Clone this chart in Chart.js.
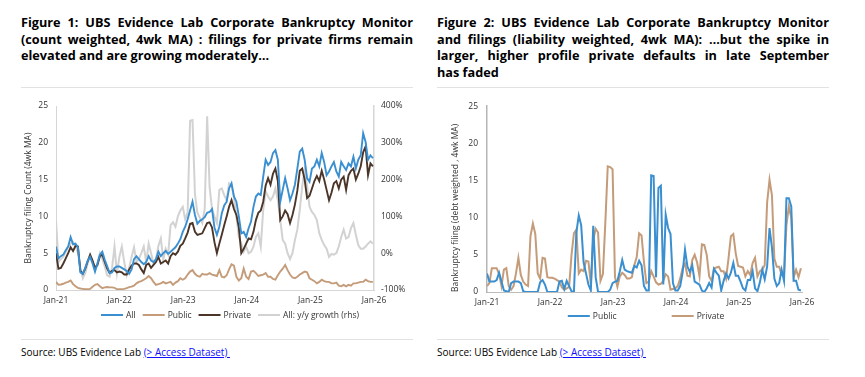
<!DOCTYPE html>
<html>
<head>
<meta charset="utf-8">
<script src="https://cdn.jsdelivr.net/npm/chart.js@4.4.1/dist/chart.umd.min.js"></script>
<style>
  body { margin: 0; width: 865px; height: 377px; background: #fff; position: relative; overflow: hidden; font-family: "Open Sans", sans-serif; color: #000; }
  .title { position: absolute; top: 14px; width: 392px; font-weight: bold; font-size: 12.7px; line-height: 16.7px; }
  .title div { white-space: nowrap; }
  .title .just { text-align: justify; text-align-last: justify; white-space: normal; }
  .rule { position: absolute; width: 392px; height: 1px; background: #e2e2e2; }
  .source { position: absolute; top: 345px; font-size: 10px; white-space: pre; }
  .source a { color: #1010ff; text-decoration: underline; }
  canvas { position: absolute; top: 92px; }
</style>
</head>
<body>
<div class="title" style="left:21px">
  <div class="just">Figure 1: UBS Evidence Lab Corporate Bankruptcy Monitor</div>
  <div class="just">(count weighted, 4wk MA) : filings for private firms remain</div>
  <div>elevated and are growing moderately…</div>
</div>
<div class="title" style="left:437px">
  <div class="just">Figure 2: UBS Evidence Lab Corporate Bankruptcy Monitor</div>
  <div class="just">and filings (liability weighted, 4wk MA): …but the spike in</div>
  <div class="just">larger, higher profile private defaults in late September</div>
  <div>has faded</div>
</div>
<div class="rule" style="left:21px; top:87px"></div>
<div class="rule" style="left:437px; top:87px"></div>
<canvas id="count-chart" width="400" height="240" style="left:14px"></canvas>
<canvas id="liab-chart" width="400" height="240" style="left:430px"></canvas>
<div class="rule" style="left:21px; top:339px"></div>
<div class="rule" style="left:437px; top:339px"></div>
<div class="source" style="left:21px">Source: UBS Evidence Lab <a href="#">(&gt; Access Dataset) </a></div>
<div class="source" style="left:437px">Source: UBS Evidence Lab <a href="#">(&gt; Access Dataset) </a></div>

<script>
// fortnightly readings, first one in the first week of Jan-21
const stepDays = 14;
const yearTicks = ["Jan-21", "Jan-22", "Jan-23", "Jan-24", "Jan-25", "Jan-26"];
const countTicks = [0, 5, 10, 15, 20, 25];
const growthTicks = [-100, 0, 100, 200, 300, 400];

// Figure 1: count weighted, 4wk MA
const allCount = [
  5.9, 4.3, 4.6, 4.8, 5.4, 5.9, 7.2, 6.2, 6.3, 5.8,
  2.4, 2.2, 3.0, 4.0, 4.5, 3.6, 2.5, 3.6, 4.8, 5.2,
  4.1, 3.2, 2.3, 2.4, 3.0, 3.2, 3.2, 3.0, 2.8, 2.6,
  2.2, 2.8, 4.2, 4.6, 4.2, 3.8, 3.5, 3.8, 4.6, 4.0,
  3.8, 4.2, 5.2, 4.6, 5.0, 5.3, 4.9, 5.2, 5.5, 5.8,
  6.3, 6.9, 7.9, 8.6, 9.6, 10.8, 12.0, 10.2, 9.0, 9.4,
  9.6, 9.9, 10.5, 10.6, 11.0, 8.5, 7.5, 8.6, 10.4, 11.5,
  12.0, 13.8, 14.5, 12.7, 12.0, 10.0, 7.7, 7.9, 7.2, 8.4,
  9.3, 11.3, 12.7, 13.1, 12.9, 15.4, 17.7, 17.0, 17.4, 18.6,
  19.0, 17.7, 12.0, 13.6, 15.2, 13.8, 12.2, 13.1, 14.3, 16.5,
  18.8, 19.2, 17.7, 15.2, 14.7, 16.5, 16.8, 17.7, 16.8, 18.6,
  17.4, 15.6, 16.1, 16.8, 17.4, 16.1, 15.4, 17.4, 16.8, 16.3,
  17.2, 16.8, 18.1, 16.5, 17.7, 18.3, 21.3, 20.1, 17.7, 18.3,
  17.9
];
const publicCount = [
  1.1, 0.7, 0.75, 0.85, 1.0, 1.1, 1.3, 0.8, 0.5, 0.3,
  0.2, 0.15, 0.1, 0.1, 0.15, 0.45, 0.7, 0.8, 0.5, 0.25,
  0.35, 0.4, 0.35, 0.35, 0.3, 0.1, 0.1, 0.1, 0.15, 0.25,
  0.4, 0.45, 0.6, 0.9, 1.1, 1.2, 1.4, 1.6, 1.9, 1.6,
  1.1, 0.7, 0.8, 0.9, 1.1, 0.9, 1.0, 1.1, 0.7, 1.0,
  1.2, 1.6, 1.4, 1.6, 2.1, 2.5, 2.7, 2.2, 1.9, 1.8,
  2.2, 2.1, 2.1, 2.3, 2.1, 2.0, 1.9, 2.7, 1.8, 1.7,
  2.0, 2.8, 3.5, 3.3, 1.8, 1.3, 1.6, 2.9, 1.8, 1.5,
  2.5, 2.6, 2.3, 1.9, 2.0, 2.1, 2.3, 1.8, 1.8, 1.5,
  1.4, 2.0, 2.5, 2.9, 3.4, 2.7, 2.1, 1.7, 1.6, 1.8,
  2.1, 2.3, 2.5, 2.4, 1.6, 1.4, 1.2, 0.9, 1.1, 1.4,
  1.2, 1.1, 1.1, 0.9, 0.9, 1.0, 0.6, 0.5, 0.7, 0.5,
  0.7, 0.6, 0.9, 0.9, 1.0, 1.1, 1.1, 1.4, 1.2, 1.1,
  1.1
];
const privateCount = [
  5.0, 2.9, 3.0, 3.6, 4.3, 5.0, 5.8, 5.3, 6.0, 5.9,
  2.6, 2.2, 2.9, 3.9, 4.8, 4.0, 3.0, 3.4, 4.6, 4.8,
  3.8, 2.9, 2.3, 2.6, 2.7, 2.4, 2.5, 2.4, 2.1, 2.1,
  2.8, 3.3, 3.6, 3.6, 3.4, 2.8, 2.3, 3.4, 3.6, 3.0,
  3.4, 3.8, 4.5, 3.6, 3.8, 4.0, 3.6, 4.6, 5.0, 4.8,
  5.2, 6.0, 6.3, 7.0, 7.8, 9.0, 9.1, 7.9, 7.5, 7.6,
  7.7, 8.4, 9.1, 9.2, 8.5, 6.5, 5.0, 6.3, 7.5, 8.8,
  10.0, 11.3, 12.2, 11.0, 10.2, 8.5, 5.0, 5.6, 6.3, 7.0,
  6.9, 7.9, 9.5, 10.5, 10.8, 12.0, 14.2, 15.2, 14.3, 15.8,
  16.5, 14.8, 9.5, 10.0, 10.8, 10.3, 9.1, 10.2, 11.6, 13.5,
  16.2, 16.5, 15.0, 12.5, 12.8, 13.8, 14.8, 15.5, 14.8, 16.2,
  15.0, 13.6, 12.2, 13.2, 14.5, 14.8, 13.8, 15.0, 15.4, 13.6,
  15.6, 16.2, 16.5, 15.0, 15.8, 16.8, 18.7, 19.5, 15.6, 17.2,
  16.8
];
// y/y growth of All, in %, read on the right axis
const allGrowth = [
  90, -24, -16, -10, 4, 18, 26, 30, 20, 0,
  -40, -68, -54, -28, -10, -24, -46, -28, 0, -16,
  -36, -60, -64, -40, 18, -54, -10, 18, -24, -60,
  -40, -10, 16, -24, -16, 0, 18, -24, 26, 0,
  -28, -18, 20, 40, -18, 12, -4, 76, 84, 72,
  100, 116, 126, 92, 110, 360, 362, 160, 110, 96,
  82, 120, 372, 180, 120, 100, 82, 172, 176, 158,
  144, 190, 186, 150, 100, 44, 26, 4, 18, 0,
  4, 18, 44, 54, 18, 118, 168, 154, 144, 154,
  176, 144, 90, 36, 26, 0, -16, 0, 36, 64,
  118, 182, 226, 182, 126, 112, 104, 90, 54, 36,
  22, 12, -10, -2, -4, 0, 18, 44, 64, 40,
  44, 68, 82, 50, 22, 12, 12, 18, 26, 32,
  26
];

// Figure 2: liability weighted, 4wk MA
const publicLiab = [
  2.5, 1.4, 1.4, 1.4, 1.6, 2.6, 1.4, 0.2, 0.1, 0.0,
  1.2, 1.4, 1.4, 1.4, 1.2, 0.1, 0.0, 0.0, 0.0, 0.0,
  0.0, 0.0, 1.3, 1.6, 1.0, 0.0, 0.0, 0.0, 0.0, 0.0,
  1.4, 1.5, 0.4, 1.5, 0.8, 0.1, 0.0, 8.0, 10.3, 9.0,
  4.0, 2.5, 1.0, 0.2, 8.9, 2.0, 0.0, 0.0, 0.0, 0.0,
  0.0, 0.3, 1.2, 1.4, 1.5, 2.8, 4.3, 3.0, 2.8, 2.7,
  2.6, 3.5, 3.3, 4.2, 3.6, 0.8, 0.2, 0.2, 15.7, 15.6,
  2.0, 14.0, 14.3, 1.0, 10.4, 8.6, 7.8, 1.2, 0.2, 0.2,
  0.8, 2.6, 5.7, 3.4, 2.7, 3.6, 1.4, 1.2, 1.0, 0.2,
  0.0, 0.5, 1.2, 0.6, 3.1, 2.6, 2.2, 0.2, 1.5, 2.5,
  1.8, 2.6, 3.9, 2.2, 2.2, 1.4, 0.5, 0.2, 1.6, 1.6,
  2.8, 0.5, 0.1, 1.3, 3.0, 1.7, 3.4, 8.6, 6.0, 1.8,
  0.8, 1.2, 3.0, 1.5, 12.6, 12.6, 11.5, 1.5, 1.5, 0.3,
  0.2
];
const privateLiab = [
  0.8, 1.2, 3.2, 3.2, 3.2, 2.4, 0.8, 3.0, 3.2, 0.8,
  0.3, 0.8, 2.5, 4.6, 2.3, 1.4, 1.0, 0.8, 7.5, 9.2,
  7.8, 2.5, 1.8, 4.6, 4.5, 2.0, 1.9, 1.9, 1.8, 1.6,
  1.4, 0.6, 0.3, 0.5, 0.7, 5.0, 7.9, 8.4, 2.5, 3.0,
  2.8, 4.2, 4.1, 1.0, 7.0, 8.5, 8.0, 1.5, 2.4, 9.3,
  16.9, 16.8, 16.5, 2.0, 0.7, 2.1, 2.6, 2.3, 1.8, 1.8,
  2.0, 3.6, 4.7, 7.9, 7.6, 4.0, 1.2, 1.4, 2.8, 2.1,
  1.3, 1.0, 1.1, 1.5, 2.4, 2.1, 0.3, 0.4, 0.5, 0.8,
  1.8, 3.2, 3.8, 2.2, 2.1, 4.3, 5.0, 4.0, 2.1, 6.4,
  6.3, 5.0, 2.1, 1.5, 3.2, 3.3, 3.4, 2.8, 2.8, 1.8,
  4.5, 7.5, 7.8, 5.2, 3.5, 3.4, 3.3, 2.1, 2.8, 2.3,
  3.9, 4.6, 2.1, 2.8, 3.0, 3.6, 12.0, 15.1, 13.0, 4.5,
  3.4, 3.4, 2.3, 2.2, 9.0, 11.5, 10.0, 2.0, 3.0, 2.0,
  3.2
];

const BLUE = "#3a8fd1";
const TAN = "#c49c7a";
const BROWN = "#4a3528";
const GREY = "#d2d2d2";
const TEXT = "#333333";

Chart.defaults.font.family = "'Open Sans', sans-serif";
Chart.defaults.font.size = 8.5;
Chart.defaults.color = TEXT;

// years since Jan-21 for each fortnight
function toPoints(values) {
  return values.map((v, i) => ({ x: (i * stepDays) / 365.25, y: v }));
}

// legend drawn as short line + label, centred where the report puts it
const lineLegend = {
  id: "lineLegend",
  afterDraw(chart, args, opts) {
    const { ctx } = chart;
    const sets = chart.data.datasets;
    ctx.save();
    ctx.font = opts.font;
    ctx.textBaseline = "middle";
    const widths = sets.map(
      (ds) => opts.line + opts.space + ctx.measureText(ds.label).width
    );
    const total = widths.reduce((a, b) => a + b, 0) + opts.gap * (sets.length - 1);
    let x = opts.cx - total / 2;
    sets.forEach((ds, i) => {
      ctx.strokeStyle = ds.borderColor;
      ctx.lineWidth = 2;
      ctx.beginPath();
      ctx.moveTo(x, opts.y);
      ctx.lineTo(x + opts.line, opts.y);
      ctx.stroke();
      ctx.fillStyle = TEXT;
      ctx.fillText(ds.label, x + opts.line + opts.space, opts.y + 0.5);
      x += widths[i] + opts.gap;
    });
    ctx.restore();
  },
};

function lineSet(label, values, color, width, axis) {
  return {
    label: label,
    data: toPoints(values),
    borderColor: color,
    backgroundColor: color,
    borderWidth: width,
    pointRadius: 0,
    tension: 0,
    yAxisID: axis || "y",
  };
}

const xAxis = (borderColor) => ({
  type: "linear",
  min: 0,
  max: 5,
  afterFit: (s) => { s.height = 16; },
  afterBuildTicks: (s) => { s.ticks = yearTicks.map((t, i) => ({ value: i })); },
  ticks: { padding: 5, maxRotation: 0, autoSkip: false, callback: (v, idx) => yearTicks[idx] },
  grid: { display: false, drawTicks: false },
  border: { color: borderColor, width: 1 },
});

new Chart(document.querySelector("#count-chart"), {
  type: "line",
  data: {
    datasets: [
      lineSet("All", allCount, BLUE, 1.9),
      lineSet("Public", publicCount, TAN, 1.9),
      lineSet("Private", privateCount, BROWN, 1.9),
      lineSet("All: y/y growth (rhs)", allGrowth, GREY, 2, "y1"),
    ],
  },
  options: {
    responsive: false,
    animation: false,
    layout: { padding: { top: 14, bottom: 26, left: 0, right: 0 } },
    scales: {
      x: xAxis("#d6d6d6"),
      y: {
        position: "left",
        min: 0,
        max: 25,
        afterFit: (s) => { s.width = 42; },
        afterBuildTicks: (s) => { s.ticks = countTicks.map((v) => ({ value: v })); },
        ticks: { padding: 8 },
        grid: { display: false, drawTicks: false },
        border: { color: "#d6d6d6", width: 1 },
        title: {
          display: true,
          text: "Bankruptcy filing Count (4wk MA)",
          padding: { top: 9, bottom: 0 },
          font: { size: 8.5 },
        },
      },
      y1: {
        position: "right",
        min: -100,
        max: 400,
        afterFit: (s) => { s.width = 40; },
        afterBuildTicks: (s) => { s.ticks = growthTicks.map((v) => ({ value: v })); },
        ticks: { padding: 7, callback: (v) => v + "%" },
        grid: { display: false, drawTicks: false },
        border: { color: "#d6d6d6", width: 1.5 },
      },
    },
    plugins: {
      legend: { display: false },
      tooltip: { enabled: false },
      lineLegend: { cx: 216, y: 223, gap: 7, line: 22, space: 3, font: "8.5px 'Open Sans'" },
    },
  },
  plugins: [lineLegend],
});

new Chart(document.querySelector("#liab-chart"), {
  type: "line",
  data: {
    datasets: [
      lineSet("Public", publicLiab, BLUE, 2),
      lineSet("Private", privateLiab, TAN, 2),
    ],
  },
  options: {
    responsive: false,
    animation: false,
    layout: { padding: { top: 14, bottom: 24, left: 0, right: 28 } },
    scales: {
      x: xAxis("#bdbdbd"),
      y: {
        position: "left",
        min: 0,
        max: 25,
        afterFit: (s) => { s.width = 57; },
        afterBuildTicks: (s) => { s.ticks = countTicks.map((v) => ({ value: v })); },
        ticks: { padding: 9 },
        grid: { display: false, drawTicks: false },
        border: { color: "#b5b5b5", width: 1.5 },
        title: {
          display: true,
          text: "Bankruptcy filing (debt weighted , 4wk MA)",
          align: "start",
          padding: { top: 20, bottom: 0 },
          font: { size: 8.5 },
        },
      },
    },
    plugins: {
      legend: { display: false },
      tooltip: { enabled: false },
      lineLegend: { cx: 216, y: 224, gap: 55, line: 22, space: 3, font: "8.5px 'Open Sans'" },
    },
  },
  plugins: [lineLegend],
});
</script>
</body>
</html>
